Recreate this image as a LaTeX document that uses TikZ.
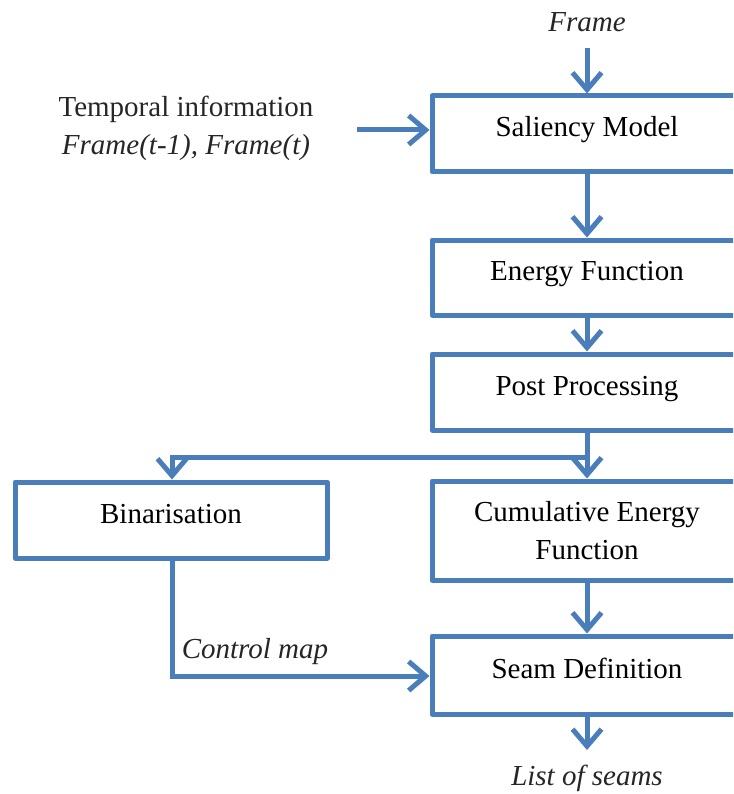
\documentclass[tikz,border=0pt]{standalone}
\usepackage{fontspec}
\setmainfont{Liberation Serif}
\usetikzlibrary{arrows.meta}
\definecolor{flowblue}{RGB}{74,126,187}
\begin{document}
\begin{tikzpicture}[x=1pt,y=-1pt,
  font=\fontsize{29}{38}\selectfont,
  box/.style={draw=flowblue,line width=5pt,line join=round,rectangle,minimum width=310pt,inner sep=0pt},
  onebox/.style={box,text height=20pt,text depth=14pt},
  flow/.style={draw=flowblue,line width=5pt,-{Straight Barb[length=17pt,width=29pt]}},
  link/.style={draw=flowblue,line width=5pt},
  lbl/.style={inner sep=0pt,text=black!85}]
\clip (0,0) rectangle (733,794);
\fill[white] (0,0) rectangle (733,794);

\node[onebox,minimum height=76pt] (sal) at (587,134) {Saliency Model};
\node[onebox,minimum height=75pt] (en) at (587,277.5) {Energy Function};
\node[onebox,minimum height=76pt] (pp) at (587,392) {Post Processing};
\node[box,minimum height=99pt,align=center] (cum) at (587,530.5) {Cumulative Energy\\Function};
\node[onebox,minimum height=78pt] (seam) at (587,675) {Seam Definition};
\node[onebox,minimum height=76pt,minimum width=312pt] (bin) at (171,520) {Binarisation};

\node[lbl] (frame) at (587,22) {\itshape Frame};
\node[lbl,align=center] (temp) at (186,128) {Temporal information\\\itshape Frame(t-1), Frame(t)};
\node[lbl] (cmap) at (255,652) {\itshape Control map};
\node[lbl] (list) at (587,778) {\itshape List of seams};

\coordinate (fin) at (587,48);
\coordinate (tin) at (357,130);
\coordinate (sp) at (587,457);
\coordinate (bl) at (172,457);
\coordinate (cc) at (172,676);
\coordinate (out) at (587,750);

\draw[flow] (fin) -- (sal.north);
\draw[flow] (tin) -- (tin -| sal.west);
\draw[flow] (sal.south) -- (en.north);
\draw[flow] (en.south) -- (pp.north);
\draw[link] (pp.south) -- (sp);
\draw[flow] (sp) -- (cum.north);
\draw[flow,line join=miter] (sp) -- (bl) -- (bl |- bin.north);
\draw[flow] (cum.south) -- (seam.north);
\draw[flow] (bl |- bin.south) -- (cc) -- (cc -| seam.west);
\draw[flow] (seam.south) -- (out);
\end{tikzpicture}
\end{document}
